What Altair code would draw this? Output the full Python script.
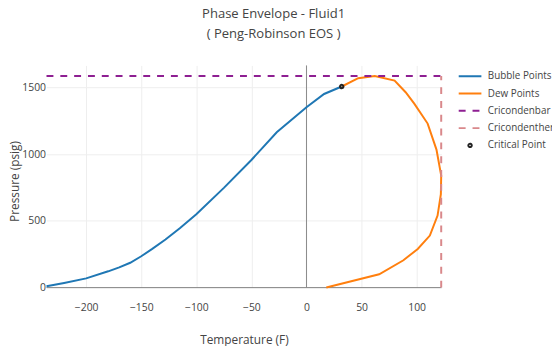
import altair as alt
import pandas as pd

# ---- data ----
bubble_T = [-236, -220, -200, -180, -170, -160, -150, -140, -128, -115, -100, -75, -50, -27, 0, 16, 32]
bubble_P = [10, 35, 69, 122, 152, 186, 235, 290, 360, 445, 550, 748, 957, 1165, 1352, 1452, 1508]

dew_T = [32, 47, 62, 80, 90, 98, 110, 118, 122.3, 122, 119, 112, 101, 88, 66, 18]
dew_P = [1508, 1570, 1586, 1552, 1465, 1378, 1230, 1035, 840, 700, 540, 390, 290, 205, 100, 0]

cricondenbar_T = [-236, 122.3]
cricondenbar_P = [1586, 1586]

cricondentherm_T = [122.3, 122.3]
cricondentherm_P = [0, 1586]

critical_T = [32]
critical_P = [1508]

series_names = ["Bubble Points", "Dew Points", "Cricondenbar", "Cricondentherm", "Critical Point"]
series_colors = ["#1f77b4", "#ff7f0e", "#8e1f92", "#d9888b", "#222222"]

x_ticks = [-200, -150, -100, -50, 0, 50, 100]
y_ticks = [0, 500, 1000, 1500]

def frame(name, T, P):
    return pd.DataFrame({"series": name, "T": T, "P": P, "i": range(len(T))})

bubble = frame("Bubble Points", bubble_T, bubble_P)
dew = frame("Dew Points", dew_T, dew_P)
cbar = frame("Cricondenbar", cricondenbar_T, cricondenbar_P)
ctherm = frame("Cricondentherm", cricondentherm_T, cricondentherm_P)
crit = frame("Critical Point", critical_T, critical_P)

FONT = "Open Sans"
TXT = "#444444"

xs = alt.Scale(domain=[-236, 122.5], nice=False, zero=False)
ys = alt.Scale(domain=[0, 1666], nice=False, zero=False)

x_enc = alt.X("T:Q", scale=xs, title="Temperature (F)",
              axis=alt.Axis(values=x_ticks, grid=True, gridColor="#eeeeee", domain=False,
                            ticks=False, tickSize=0, labelPadding=15, labelFontSize=10.5,
                            labelColor=TXT, labelFont=FONT, titleFont=FONT, titleFontSize=12,
                            titleColor=TXT, titleFontWeight="normal", titlePadding=22))
y_enc = alt.Y("P:Q", scale=ys, title="Pressure (psig)",
              axis=alt.Axis(values=y_ticks, format="d", grid=True, gridColor="#eeeeee", domain=False,
                            ticks=False, tickSize=0, labelPadding=1, labelFontSize=10.5,
                            labelColor=TXT, labelFont=FONT, titleFont=FONT, titleFontSize=12,
                            titleColor=TXT, titleFontWeight="normal",
                            titleX=-32, titleY=117, titleAngle=270, titleAlign="center",
                            titleBaseline="middle"))

zero_x = alt.Chart(pd.DataFrame({"T": [0]})).mark_rule(color="#888888", strokeWidth=1).encode(x=alt.X("T:Q", scale=xs))
zero_y = alt.Chart(pd.DataFrame({"P": [0]})).mark_rule(color="#888888", strokeWidth=1).encode(y=alt.Y("P:Q", scale=ys))

def line(df, color, dash=None, opacity=1.0):
    kw = dict(color=color, strokeWidth=2, opacity=opacity)
    if dash:
        kw["strokeDash"] = dash
    return alt.Chart(df).mark_line(**kw).encode(x=x_enc, y=y_enc, order="i:Q")

# legend symbols: a long horizontal stroke for lines, a small dot for the point
STROKE = "M-2,0H2"
DOT = "M-0.3,0A0.3,0.3,0,1,1,0.3,0A0.3,0.3,0,1,1,-0.3,0Z"
SYM = 132
lg = alt.Legend(title=None)
pt = alt.Chart(crit).mark_point(filled=False, strokeWidth=2, opacity=1, size=SYM).encode(
    x=alt.X("T:Q", scale=xs),
    y=alt.Y("P:Q", scale=ys),
    color=alt.Color("series:N", scale=alt.Scale(domain=series_names, range=series_colors), legend=lg),
    shape=alt.Shape("series:N", scale=alt.Scale(domain=series_names,
                    range=[STROKE, STROKE, STROKE, STROKE, DOT]), legend=lg),
    strokeDash=alt.StrokeDash("series:N", scale=alt.Scale(domain=series_names,
                    range=[[1, 0], [1, 0], [7, 7], [7, 7], [1, 0]]), legend=lg),
)

chart = alt.layer(
    zero_x, zero_y,
    line(bubble, "#1f77b4"),
    line(dew, "#ff7f0e"),
    line(cbar, "#8e1f92", [7, 7]),
    line(ctherm, "#d9888b", [7, 7]),
    pt,
).properties(
    width=400, height=225,
    autosize=alt.AutoSizeParams(type="none"),
    padding={"left": 39, "top": 56, "right": 112, "bottom": 57},
    title=alt.TitleParams(text=["Phase Envelope - Fluid1", " ( Peng-Robinson EOS )"],
                          anchor="middle", dx=30, offset=24, font=FONT, fontSize=13.2,
                          color=TXT, fontWeight="normal", lineHeight=20),
).configure_view(stroke=None).configure_legend(
    orient="none", legendX=422, legendY=4, padding=0, labelFont=FONT, labelFontSize=10,
    labelColor=TXT, labelOffset=11, symbolStrokeWidth=2, symbolSize=SYM, rowPadding=5.5,
    symbolOffset=0, labelLimit=200
)

chart.save("out.html", embed_options={"renderer": "svg", "actions": False})
